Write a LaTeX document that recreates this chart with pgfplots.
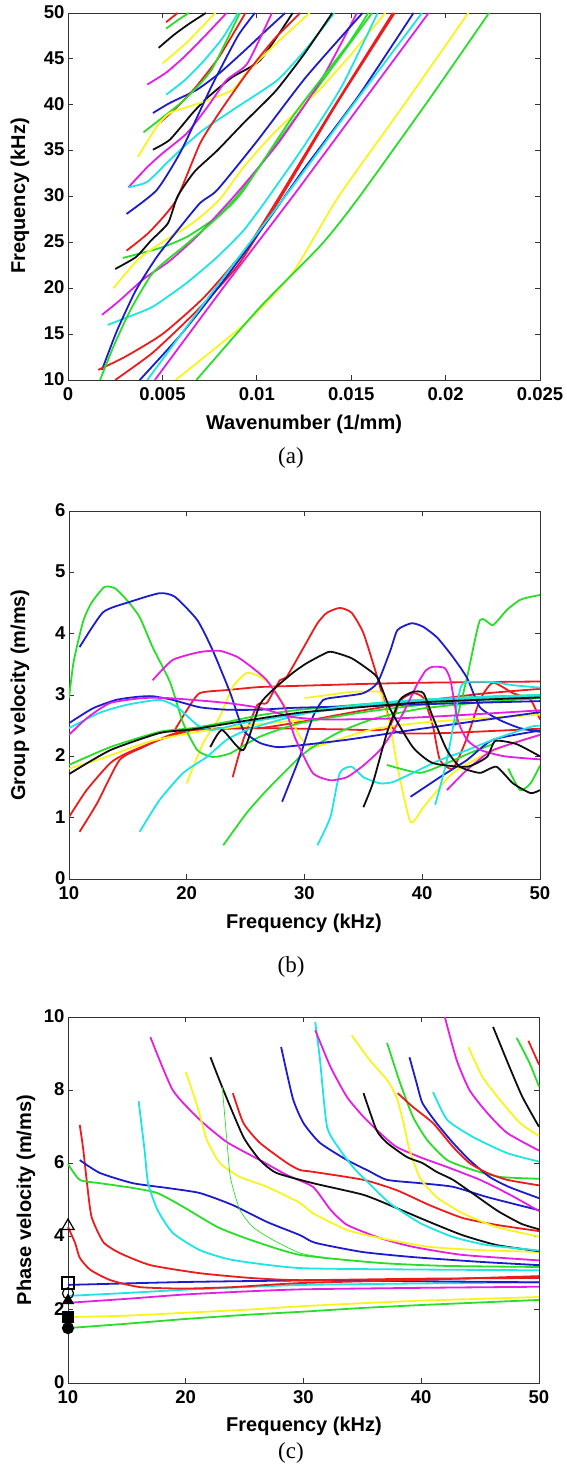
\documentclass[border=0pt]{standalone}
\usepackage{fontspec}
\setmainfont{Liberation Serif}
\setsansfont{Liberation Sans}
\usepackage{pgfplots}
\pgfplotsset{compat=1.18}
\definecolor{mr}{RGB}{236,28,28}
\definecolor{mg}{RGB}{40,222,40}
\definecolor{mb}{RGB}{28,28,205}
\definecolor{mc}{RGB}{30,228,228}
\definecolor{mm}{RGB}{228,30,228}
\definecolor{my}{RGB}{250,244,30}
\definecolor{mk}{RGB}{15,15,15}
\newcommand{\tickfont}{\fontsize{18.5}{18.5}\selectfont\sffamily\bfseries}
\newcommand{\labfont}{\fontsize{20}{20}\selectfont\sffamily\bfseries}
\pgfplotsset{
  panel/.style={scale only axis,
    axis line style={black!80,line width=0.9pt},
    tick style={black!80,line width=0.8pt},
    major tick length=5pt, tick align=inside,
    xtick pos=both, ytick pos=both,
    xticklabel pos=lower, yticklabel pos=left,
    ticklabel style={font=\tickfont},
    xticklabel style={yshift=-4pt},
    yticklabel style={yshift=1pt},
    /pgf/number format/assume math mode=true},
  cv/.style={line width=1.8pt,mark=none,smooth,tension=0.35,line join=round},
  mrk/.style={only marks,black,mark options={solid,line width=1.2pt}},
}
\begin{document}
\begin{tikzpicture}
\useasboundingbox (0pt,0pt) rectangle (567pt,1467pt);
% ---------------- (a) dispersion curves
\begin{axis}[panel, at={(68pt,1087pt)}, anchor=south west, width=472pt, height=367pt,
  xmin=0, xmax=0.025, ymin=10, ymax=50,
  xtick={0,0.005,0.01,0.015,0.02,0.025}, xticklabels={0,0.005,0.01,0.015,0.02,0.025},
  scaled x ticks=false, ytick={10,15,...,50}]
\addplot[cv,mr] coordinates {(0.0052,49.0)(0.0058,50)};
\addplot[cv,mg] coordinates {(0.0052,48.3)(0.0058,49.2)(0.0064,50)};
\addplot[cv,mk] coordinates {(0.0048,46.2)(0.0056,47.6)(0.0064,48.8)(0.0073,50)};
\addplot[cv,mm] coordinates {(0.0042,42.2)(0.0052,43.5)(0.0062,45.3)(0.0073,47.6)(0.0084,50)};
\addplot[cv,mc] coordinates {(0.0052,41.1)(0.0062,42.7)(0.0072,44.8)(0.0082,47.3)(0.0090,50)};
\addplot[cv,mb] coordinates {(0.0045,39.1)(0.0054,40.2)(0.0068,41.6)(0.0080,43.4)(0.0093,45.8)(0.0106,48.3)(0.0115,50)};
\addplot[cv,mr] coordinates {(0.0049,38.1)(0.0058,39.8)(0.0068,42.0)(0.0080,45.2)(0.0094,50)};
\addplot[cv,mg] coordinates {(0.0040,37.0)(0.0050,38.6)(0.0062,40.6)(0.0076,43.8)(0.0091,50)};
\addplot[cv,mk] coordinates {(0.0045,35.1)(0.0054,36.2)(0.0066,39.1)(0.0074,40.8)(0.0087,43.0)(0.0102,44.9)(0.0119,50)};
\addplot[cv,my] coordinates {(0.0037,34.3)(0.0047,37.6)(0.0054,39.1)(0.0070,40.2)(0.0087,41.6)(0.0096,43.8)(0.0112,47.0)(0.0128,50)};
\addplot[cv,mm] coordinates {(0.0032,31.0)(0.0042,33.2)(0.0050,34.7)(0.0063,36.9)(0.0074,39.8)(0.0084,42.7)(0.0095,44.5)(0.0108,50)};
\addplot[cv,mc] coordinates {(0.0032,31.0)(0.0042,31.6)(0.0054,34.0)(0.0070,37.0)(0.0087,39.4)(0.0111,42.7)(0.0127,46.3)(0.0141,50)};
\addplot[cv,mb] coordinates {(0.0031,28.1)(0.0047,30.7)(0.0060,35.0)(0.0076,42.0)(0.0090,47.5)(0.0099,50)};
\addplot[cv,mr] coordinates {(0.0031,24.1)(0.0043,26.1)(0.0057,29.5)(0.0070,35.8)(0.0081,39.4)(0.0095,43.5)(0.0109,47.1)(0.0123,50)};
\addplot[cv,mg] coordinates {(0.0029,23.3)(0.0049,24.4)(0.0063,25.6)(0.0079,27.8)(0.0091,30.4)(0.0113,36.5)(0.0138,43.5)(0.0161,50)};
\addplot[cv,mk] coordinates {(0.0025,22.1)(0.0036,23.4)(0.0044,25.2)(0.0053,27.1)(0.0058,30.0)(0.0067,32.7)(0.0079,35.0)(0.0093,38.0)(0.0110,41.5)(0.0125,45.5)(0.0140,50)};
\addplot[cv,my] coordinates {(0.0024,20.0)(0.0037,23.1)(0.0049,24.9)(0.0066,27.1)(0.0080,29.6)(0.0093,33.2)(0.0109,36.9)(0.0133,41.6)(0.0150,45.5)(0.0168,50)};
\addplot[cv,mm] coordinates {(0.0018,17.1)(0.0027,18.6)(0.0040,21.0)(0.0054,23.0)(0.0070,26.0)(0.0090,30.5)(0.0112,36.0)(0.0135,43.0)(0.0153,50)};
\addplot[cv,mc] coordinates {(0.0021,16.0)(0.0031,16.8)(0.0045,18.0)(0.0063,20.6)(0.0079,23.4)(0.0093,26.3)(0.0105,29.6)(0.0125,35.5)(0.0145,42.0)(0.0164,50)};
\addplot[cv,mb] coordinates {(0.0018,11.1)(0.0026,15.4)(0.0036,19.8)(0.0047,23.4)(0.0058,26.3)(0.0070,29.3)(0.0079,30.7)(0.0100,36.0)(0.0126,43.0)(0.0156,50)};
\addplot[cv,mr] coordinates {(0.0016,11.1)(0.0030,12.5)(0.0050,15.0)(0.0072,19.0)(0.0095,24.5)(0.0112,30.0)(0.0140,39.5)(0.0172,50)};
\addplot[cv,mg] coordinates {(0.0017,10)(0.0024,13.6)(0.0033,17.6)(0.0045,21.7)(0.0061,24.5)(0.0078,27.5)(0.0092,30.4)(0.0120,39.0)(0.0148,46.5)(0.0159,50)};
\addplot[cv,mr] coordinates {(0.0025,10)(0.0045,13.0)(0.0068,17.5)(0.0090,22.5)(0.0113,30.0)(0.0142,40.0)(0.0173,50)};
\addplot[cv,mb] coordinates {(0.0038,10)(0.0060,15.0)(0.0083,21.0)(0.0108,28.0)(0.0125,33.0)(0.0154,41.0)(0.0183,50)};
\addplot[cv,mc] coordinates {(0.0042,10)(0.0078,20)(0.0115,30)(0.0151,40)(0.01875,50)};
\addplot[cv,mm] coordinates {(0.0046,10)(0.0082,20)(0.0119,30)(0.0155,40)(0.0191,50)};
\addplot[cv,my] coordinates {(0.0057,10)(0.0094,16.2)(0.0119,21.7)(0.0143,29.9)(0.0178,40)(0.0212,50)};
\addplot[cv,mg] coordinates {(0.0068,10)(0.0102,18)(0.0134,24.7)(0.0153,29.6)(0.0191,40.5)(0.0223,50)};
\addplot[cv,my] coordinates {(0.0050,44.5)(0.0063,46.8)(0.0078,50)};
\end{axis}
% ---------------- (b) group velocity
\begin{axis}[panel, at={(69pt,588pt)}, anchor=south west, width=471pt, height=368pt,
  xmin=10, xmax=50, ymin=0, ymax=6, xtick={10,20,...,50}, ytick={0,1,...,6}]
\addplot[cv,mr] coordinates {(10,1.01)(11.5,1.45)(13.5,1.89)(14.9,2.05)(17.7,2.27)(20.5,2.43)(23.4,2.46)(26.2,2.46)(29.6,2.56)(35,2.75)(40,2.9)(45,3.02)(50,3.1)};
\addplot[cv,mr] coordinates {(10.9,0.77)(12.4,1.24)(14.3,1.94)(16.3,2.15)(18.6,2.35)(20.5,2.43)(26,2.46)(33,2.44)(37,2.45)(38.1,2.9)(39.2,3.03)(40.1,2.95)(40.9,2.5)(41.5,1.94)(42.6,1.8)(43.8,2.3)(44.9,2.92)(46,3.2)(47.7,3.03)(49.2,2.92)(50,2.6)};
\addplot[cv,mr] coordinates {(18.9,2.4)(20,2.75)(21.1,3.03)(23.4,3.08)(26.2,3.13)(29.6,3.15)(35,3.18)(40,3.2)(50,3.22)};
\addplot[cv,mr] coordinates {(23.9,1.66)(24.8,2.27)(26,2.84)(26.8,2.87)(27.9,3.24)(28.5,3.3)(30,3.8)(31.1,4.17)(31.9,4.34)(33,4.42)(34,4.34)(35,4.01)(36.2,3.28)(37.3,2.54)(38.1,2.38)(42,2.38)(50,2.45)};
\addplot[cv,my] coordinates {(10,1.8)(13,1.98)(17,2.25)(21,2.4)(25,2.5)(30,2.6)};
\addplot[cv,my] coordinates {(20,1.56)(21.4,2.22)(22.8,2.64)(23.9,3.13)(25.1,3.36)(26.2,3.3)(27.3,3.13)(28.5,2.76)(29.6,2.32)(30.7,2.15)(33.6,2.32)(36,2.45)(40,2.55)(45,2.62)(50,2.68)};
\addplot[cv,my] coordinates {(30,2.95)(32,3.0)(34,3.05)(36.4,3.05)(36.7,2.87)(37.3,2.48)(37.9,1.83)(39,0.93)(40.1,1.17)(41.3,1.45)(42.6,1.73)(45,2.0)(47.5,2.2)(50,2.35)};
\addplot[cv,mg] coordinates {(10,2.95)(10.4,3.55)(11.2,4.2)(11.9,4.5)(13.0,4.76)(13.9,4.74)(14.9,4.55)(16.0,4.27)(17.1,3.78)(18.6,3.2)(19.7,2.54)(20.9,2.1)(22.2,1.99)(23.7,2.05)(26.2,2.32)(29.6,2.54)(35,2.72)(40,2.84)(45,2.92)(50,2.98)};
\addplot[cv,mg] coordinates {(10,1.86)(13.5,2.15)(17.7,2.4)(20.5,2.46)(23.4,2.56)(26.2,2.67)(29.6,2.76)(35,2.85)(40,2.92)(45,2.97)(50,3.0)};
\addplot[cv,mg] coordinates {(23.1,0.55)(25.1,1.08)(26.8,1.45)(28.5,1.78)(29.6,1.99)(30.7,2.15)(33,2.4)(36,2.62)(40,2.78)(45,2.88)(50,2.95)};
\addplot[cv,mg] coordinates {(37,1.86)(39.8,1.73)(42.1,1.89)(44,2.05)(46,2.2)};
\addplot[cv,mg] coordinates {(47.3,1.8)(48.3,1.45)(49.2,1.56)(50,1.85)};
\addplot[cv,mg] coordinates {(42.8,2.5)(43.8,3.28)(44.9,4.22)(46,4.14)(47.2,4.39)(48.3,4.55)(49.2,4.6)(50,4.63)};
\addplot[cv,mb] coordinates {(10.9,3.78)(12.9,4.35)(15.2,4.52)(17.7,4.66)(19.0,4.6)(20.9,4.22)(22.2,3.73)(23.7,3.03)(24.8,2.43)(26.2,2.22)(27.7,2.15)(29.6,2.18)(33.6,2.27)(39.2,2.43)(50,2.72)};
\addplot[cv,mb] coordinates {(10,2.54)(12,2.78)(14,2.92)(15.8,2.97)(17.1,2.98)(18.8,2.92)(21.1,2.8)(23.4,2.76)(26.2,2.76)(29,2.79)(35,2.82)(42,2.86)(50,2.9)};
\addplot[cv,mb] coordinates {(28.1,1.26)(29.6,1.99)(30.7,2.64)(31.6,2.92)(33,2.97)(35,3.03)(36.2,3.2)(37.3,3.73)(37.9,4.06)(39.1,4.17)(40.1,4.11)(41.3,3.93)(42.6,3.62)(43.8,3.28)(44.9,2.8)(46.6,2.59)(48.3,2.46)(50,2.4)};
\addplot[cv,mb] coordinates {(39,1.34)(41.5,1.66)(43.8,1.94)(46,2.27)(50,2.42)};
\addplot[cv,mc] coordinates {(10,2.46)(12.6,2.71)(14.9,2.84)(17.7,2.92)(19.2,2.8)(20.9,2.51)(22.2,2.43)(25,2.55)(30,2.7)(35,2.82)(40,2.9)(45,2.95)(50,2.98)};
\addplot[cv,mc] coordinates {(16,0.77)(17.7,1.29)(19.7,1.73)(21.7,1.99)(23.4,2.27)(25.1,2.43)(28,2.6)(32,2.78)(38,2.9)(44,2.96)(50,3.0)};
\addplot[cv,mc] coordinates {(31.1,0.55)(32.2,1.01)(33,1.73)(34,1.83)(35,1.66)(36.4,1.56)(37.5,1.58)(39.2,1.73)(41.5,1.94)(43.8,2.1)(46,2.27)(49.2,2.48)(50,2.5)};
\addplot[cv,mc] coordinates {(41.1,1.21)(42.1,1.94)(43.2,3.08)(43.8,3.21)(46,3.21)(47.7,3.16)(50,3.12)};
\addplot[cv,mm] coordinates {(10,2.35)(11.5,2.62)(13.5,2.87)(16.3,2.95)(18.3,2.95)(20.5,2.92)(23.4,2.87)(26.2,2.79)(29,2.64)(32,2.6)(38,2.62)(44,2.68)(50,2.75)};
\addplot[cv,mm] coordinates {(17.1,3.24)(18.8,3.57)(21.1,3.7)(22.8,3.72)(24.3,3.62)(25.6,3.44)(26.8,3.24)(28.3,2.8)(29.2,2.3)(30.7,1.73)(32.2,1.61)(33.6,1.66)(35,1.85)(36.4,2.1)(37.5,2.4)(38.5,2.75)(39.5,3.15)(40.3,3.4)(40.9,3.46)(41.9,3.44)(42.4,3.24)(43.0,2.6)(43.8,2.27)(45,2.1)(47,2.0)(50,1.95)};
\addplot[cv,mm] coordinates {(42.1,1.45)(43.8,1.78)(46,2.1)(50,2.35)};
\addplot[cv,mk] coordinates {(10,1.71)(13.5,2.1)(17.7,2.38)(20.5,2.44)(25,2.58)(30,2.72)(40,2.88)(50,2.96)};
\addplot[cv,mk] coordinates {(22,2.15)(23,2.43)(24.8,2.1)(26.2,2.84)(27.3,3.08)(29,3.36)(30.2,3.52)(32,3.7)(32.8,3.68)(34,3.6)(35.1,3.46)(36.2,3.28)(37.3,2.76)(39.2,2.15)(40.9,1.89)(43.8,1.83)(45.5,1.99)(46.2,2.25)(48,2.2)(50,2.0)};
\addplot[cv,mk] coordinates {(35,1.17)(35.8,1.56)(37,2.38)(38.1,2.92)(39.2,3.05)(40.1,3.03)(40.9,2.64)(42.1,2.1)(43.2,1.83)(44.9,1.73)(46.3,1.83)(47.7,1.56)(49.2,1.4)(50,1.45)};
\end{axis}
% ---------------- (c) phase velocity
\begin{axis}[panel, at={(68pt,84pt)}, anchor=south west, width=471pt, height=366pt,
  xmin=10, xmax=50, ymin=0, ymax=10, xtick={10,20,...,50}, ytick={0,2,...,10}, clip=false]
\addplot[cv,mg] coordinates {(10,1.50)(15,1.62)(20,1.75)(25,1.86)(30,1.95)(35,2.05)(40,2.13)(45,2.2)(50,2.27)};
\addplot[cv,my] coordinates {(10,1.8)(15,1.84)(20,1.92)(25,2.0)(30,2.1)(35,2.18)(40,2.25)(45,2.3)(50,2.35)};
\addplot[cv,mm] coordinates {(10,2.19)(15,2.3)(20,2.42)(25,2.5)(30,2.56)(40,2.6)(50,2.63)};
\addplot[cv,mc] coordinates {(10,2.38)(15,2.46)(20,2.55)(25,2.62)(30,2.68)(40,2.72)(50,2.75)};
\addplot[cv,mb] coordinates {(10,2.68)(20,2.76)(30,2.8)(40,2.78)(50,2.75)};
\addplot[cv,mr] coordinates {(11.0,7.05)(11.3,6.37)(11.6,5.5)(12.0,4.54)(13.0,3.85)(14.4,3.55)(17,3.22)(21.2,3.0)(25.5,2.87)(29.7,2.81)(40,2.85)(50,2.87)};
\addplot[cv,mr] coordinates {(10,4.26)(10.6,3.83)(11,3.42)(11.9,3.09)(13.6,2.81)(16.1,2.62)(19.8,2.58)(24,2.62)(29.7,2.73)(40,2.82)(50,2.92)};
\addplot[cv,mg] coordinates {(10,5.98)(11,5.55)(12.7,5.46)(15.5,5.33)(17.6,5.19)(19.8,4.81)(22.7,4.26)(25.5,3.91)(29.7,3.5)(36.5,3.28)(42,3.2)(50,3.17)};
\addplot[cv,mb] coordinates {(11.0,6.09)(12.7,5.74)(15.5,5.46)(18.4,5.33)(21.2,5.19)(24.0,4.86)(26.9,4.4)(29.7,4.04)(31,3.83)(35,3.58)(39.3,3.44)(45,3.31)(50,3.22)};
\addplot[cv,mc] coordinates {(16,7.7)(16.5,6.37)(16.8,5.46)(17.6,4.73)(18.9,4.1)(21.2,3.63)(24,3.36)(29.7,3.14)(40,3.1)(50,3.08)};
\addplot[cv,mm] coordinates {(17,9.45)(18.9,8.0)(21.2,7.19)(23.5,6.58)(26.3,6.09)(28.6,5.68)(30.8,5.36)(32.3,4.73)(33.7,4.32)(36.5,3.96)(39.3,3.72)(43.5,3.5)(50,3.35)};
\addplot[cv,my] coordinates {(20,8.5)(21,7.54)(21.8,6.64)(22.9,6.01)(24.6,5.63)(26.9,5.36)(29.7,4.92)(30.8,4.64)(33.7,4.18)(36.5,3.96)(40.7,3.72)(45,3.63)(50,3.58)};
\addplot[cv,mk] coordinates {(22.1,8.9)(23.2,8.0)(24.9,6.72)(26.3,6.09)(27.7,5.74)(30.8,5.46)(35.1,5.14)(37.9,4.78)(40.7,4.4)(43.5,4.04)(46.4,3.77)(50,3.6)};
\addplot[cv,mg,line width=0.7pt] coordinates {(23.1,8.09)(23.5,6.6)(23.8,5.6)(24.6,4.73)(25.7,4.26)(27.4,3.91)(29.7,3.55)(32,3.42)};
\addplot[cv,mr] coordinates {(24,7.92)(24.9,7.1)(26.3,6.56)(28.6,6.01)(29.7,5.82)(30.8,5.77)(35.1,5.55)(37.9,5.27)(40.7,4.86)(43.5,4.51)(46.4,4.32)(50,4.15)};
\addplot[cv,mb] coordinates {(28.1,9.18)(29.1,7.77)(30,7.1)(31.4,6.56)(33.7,6.09)(35.5,5.8)(37.1,5.55)(39.9,5.46)(42.7,5.36)(45.6,5.08)(50,4.72)};
\addplot[cv,mc] coordinates {(31,9.86)(31.4,8.83)(32,7.0)(33.1,6.37)(34.2,5.9)(35.1,5.6)(37.3,4.92)(39.9,4.37)(42.7,3.99)(45.6,3.77)(50,3.62)};
\addplot[cv,mm] coordinates {(31,9.64)(32.3,8.63)(33.7,7.81)(35.1,7.27)(36.5,6.83)(37.9,6.45)(39.9,6.17)(42.2,5.9)(45,5.55)(47.5,5.15)(50,4.7)};
\addplot[cv,my] coordinates {(34.1,9.5)(35.6,8.83)(37.1,8.28)(37.9,7.81)(38.5,7.1)(39,6.37)(39.9,5.6)(41.3,5.08)(43.5,4.64)(46.4,4.26)(50,4.0)};
\addplot[cv,mk] coordinates {(35.1,7.92)(36.2,6.91)(37.1,6.56)(38.8,6.17)(40.1,6.01)(41.3,5.77)(42.7,5.55)(44.5,5.15)(46.5,4.7)(48.5,4.35)(50,4.2)};
\addplot[cv,mg] coordinates {(37.1,9.29)(38.2,8.2)(39.3,7.27)(40.5,6.64)(42.2,6.09)(44.4,5.82)(46.7,5.63)(50,5.58)};
\addplot[cv,mb] coordinates {(39,8.9)(39.6,8.2)(40.1,7.65)(41.3,7.1)(42.7,6.56)(44.1,6.09)(45.8,5.63)(47.5,5.35)(50,5.05)};
\addplot[cv,mr] coordinates {(38,7.92)(39.3,7.54)(41,7.1)(42.7,6.45)(44.1,6.01)(45.6,5.74)(47.3,5.55)(50,5.4)};
\addplot[cv,mc] coordinates {(41,7.95)(42.2,7.19)(44.4,6.72)(47.3,6.28)(50,6.05)};
\addplot[cv,mm] coordinates {(42,10)(43,8.83)(44.1,8.0)(45.6,7.38)(47.3,6.83)(50,6.35)};
\addplot[cv,my] coordinates {(44,9.18)(45.2,8.36)(46.7,7.73)(48.4,7.1)(50,6.75)};
\addplot[cv,mk] coordinates {(46.1,9.73)(47.5,8.63)(48.6,7.81)(50,7.0)};
\addplot[cv,mg] coordinates {(48.1,9.43)(49.2,8.74)(50,8.1)};
\addplot[cv,mr] coordinates {(49.1,9.35)(50,8.7)};
\addplot[mrk,mark=triangle,mark size=7pt] coordinates {(10,4.29)};
\addplot[mrk,mark=square,mark size=6pt] coordinates {(10,2.73)};
\addplot[mrk,mark=o,mark size=5.5pt] coordinates {(10,2.45)};
\addplot[mrk,mark=triangle*,mark size=6pt] coordinates {(10,2.25)};
\addplot[mrk,mark=square*,mark size=5.5pt] coordinates {(10,1.8)};
\addplot[mrk,mark=*,mark size=5.5pt] coordinates {(10,1.5)};
\end{axis}
% ---------------- labels
\begin{scope}[every node/.style={font=\labfont}]
\node[rotate=90] at (20pt,1271pt) {Frequency (kHz)};
\node at (304pt,1043pt) {Wavenumber (1/mm)};
\node[rotate=90] at (20pt,772pt) {Group velocity (m/ms)};
\node at (304pt,544pt) {Frequency (kHz)};
\node[rotate=90] at (26pt,267pt) {Phase velocity (m/ms)};
\node at (304pt,41pt) {Frequency (kHz)};
\end{scope}
\begin{scope}[every node/.style={font=\fontsize{23}{23}\selectfont\rmfamily}]
\node at (291pt,1009pt) {(a)};
\node at (291pt,500pt) {(b)};
\node at (291pt,14pt) {(c)};
\end{scope}
\end{tikzpicture}
\end{document}
